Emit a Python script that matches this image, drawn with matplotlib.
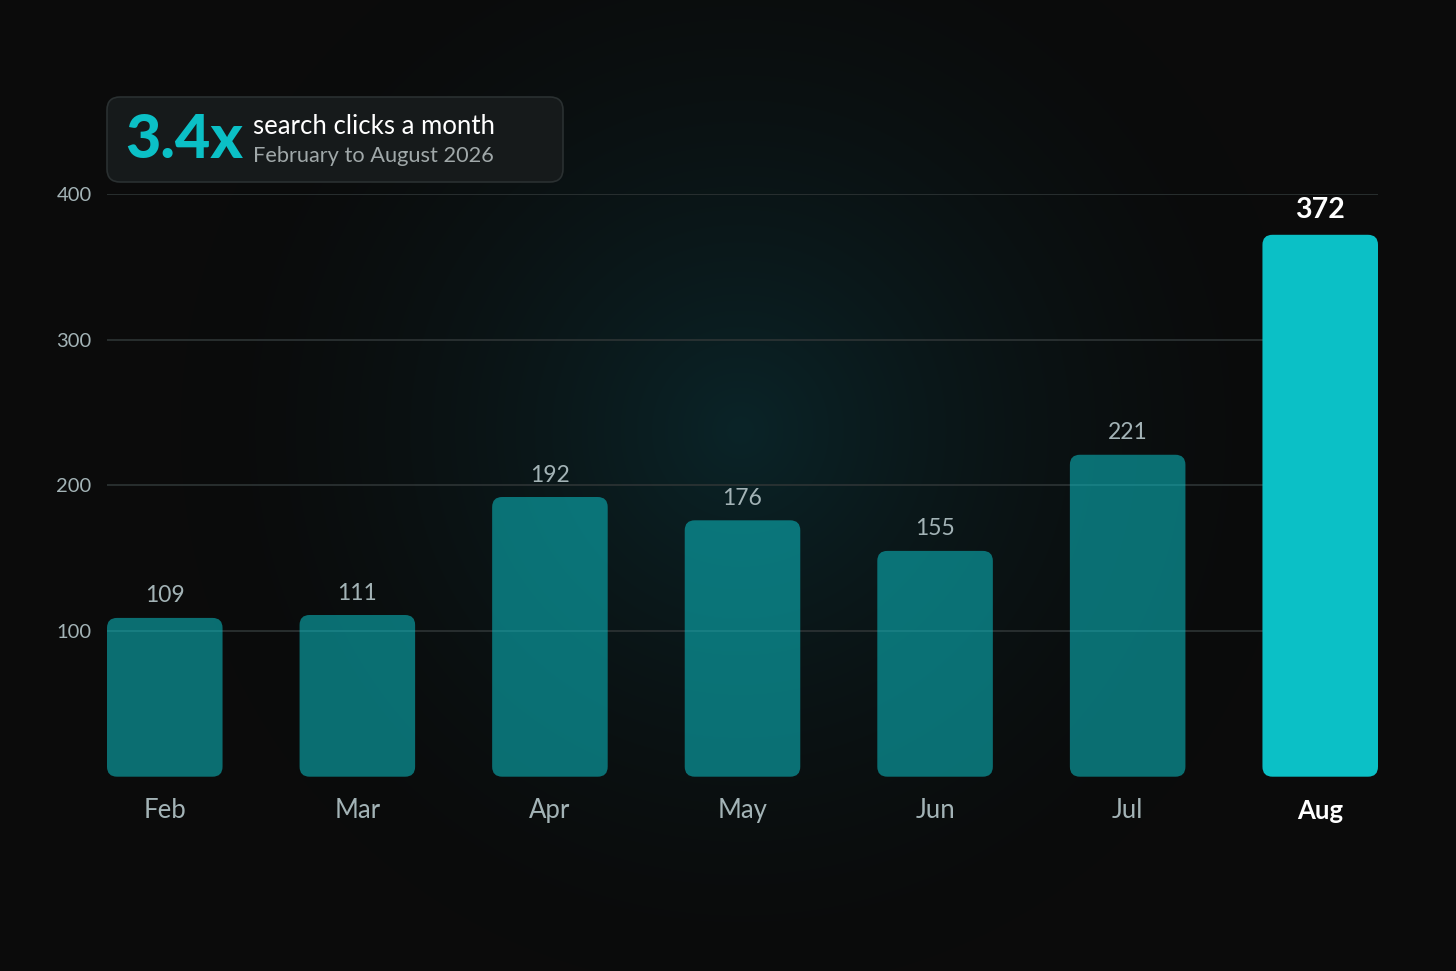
import numpy as np
import matplotlib.pyplot as plt
from matplotlib.patches import FancyBboxPatch

plt.rcParams["font.family"] = ["Lato", "DejaVu Sans"]

# Data
months = ["Feb", "Mar", "Apr", "May", "Jun", "Jul", "Aug"]
clicks = [109, 111, 192, 176, 155, 221, 372]
yticks = [100, 200, 300, 400]

BG = "#0b0b0b"
TEAL = "#0bc0c6"
GREY = "#a3b3b6"

W, H = 1456, 971
fig = plt.figure(figsize=(W / 100, H / 100), dpi=100, facecolor=BG)

# Background with a soft radial teal glow
bg = fig.add_axes([0, 0, 1, 1], zorder=-10)
yy, xx = np.mgrid[0:H, 0:W]
r = np.sqrt((xx - 740) ** 2 + (yy - 430) ** 2) / 560
g = np.clip(1 - r, 0, 1) ** 1.6
base = np.array([11, 11, 11]) / 255
glow = np.array([10, 36, 40]) / 255
img = base + (glow - base) * g[..., None]
bg.imshow(img, aspect="auto", extent=[0, W, H, 0])
bg.axis("off")

# Main axes: x from 107 to 1378 px, y 0..400 from 776.7 to 194 px
left, right = 107 / W, 1378 / W
bottom, top = 1 - 776.7 / H, 1 - 194 / H
ax = fig.add_axes([left, bottom, right - left, top - bottom])
ax.set_facecolor("none")
ax.set_xlim(-0.3, len(months) - 0.7)
ax.set_ylim(0, 400)

for y in yticks:
    ax.axhline(y, color="#2d3435", lw=1.2, zorder=1)

width = 0.6
px_x = (right - left) * W / (len(months) - 0.4)  # px per x unit
px_y = (top - bottom) * H / 400                   # px per y unit
aspect = px_x / px_y
rad = 10 / px_x

for i, (m, v) in enumerate(zip(months, clicks)):
    last = i == len(months) - 1
    patch = FancyBboxPatch(
        (i - width / 2, 0), width, v,
        boxstyle=f"round,pad=0,rounding_size={rad}",
        mutation_aspect=aspect,
        facecolor=TEAL, edgecolor="none",
        alpha=1.0 if last else 0.55, zorder=2,
    )
    ax.add_patch(patch)
    ax.text(i, v + (25 if last else 22) / px_y, str(v),
            ha="center", va="center",
            fontsize=20.5 if last else 16.5,
            fontweight="bold" if last else "normal",
            color="white" if last else GREY)
    ax.text(i, -34 / px_y, m, ha="center", va="center",
            fontsize=18.5, fontweight="bold" if last else "normal",
            color="white" if last else GREY, clip_on=False)

ax.set_xticks([])
ax.set_yticks(yticks)
ax.set_yticklabels([str(t) for t in yticks], fontsize=14.5, color=GREY)
ax.tick_params(axis="y", length=0, pad=11)
for s in ax.spines.values():
    s.set_visible(False)

# Header box
box = FancyBboxPatch(
    (107 / W, 1 - 182 / H), (563 - 107) / W, (182 - 97) / H,
    boxstyle="round,pad=0,rounding_size=0.009",
    mutation_aspect=W / H,
    transform=fig.transFigure, facecolor="#161a1b",
    edgecolor="#2a3031", lw=1.2, zorder=5,
)
fig.patches.append(box)
fig.text(125 / W, 1 - 140 / H, "3.4x", fontsize=44, fontweight="black",
         color=TEAL, va="center", ha="left", zorder=6)
fig.text(253 / W, 1 - 126 / H, "search clicks a month", fontsize=18.5,
         color="white", va="center", ha="left", zorder=6)
fig.text(253 / W, 1 - 156 / H, "February to August 2026", fontsize=15.7,
         color="#a0a8a9", va="center", ha="left", zorder=6)

fig.savefig("out.png", dpi=100, facecolor=BG)
